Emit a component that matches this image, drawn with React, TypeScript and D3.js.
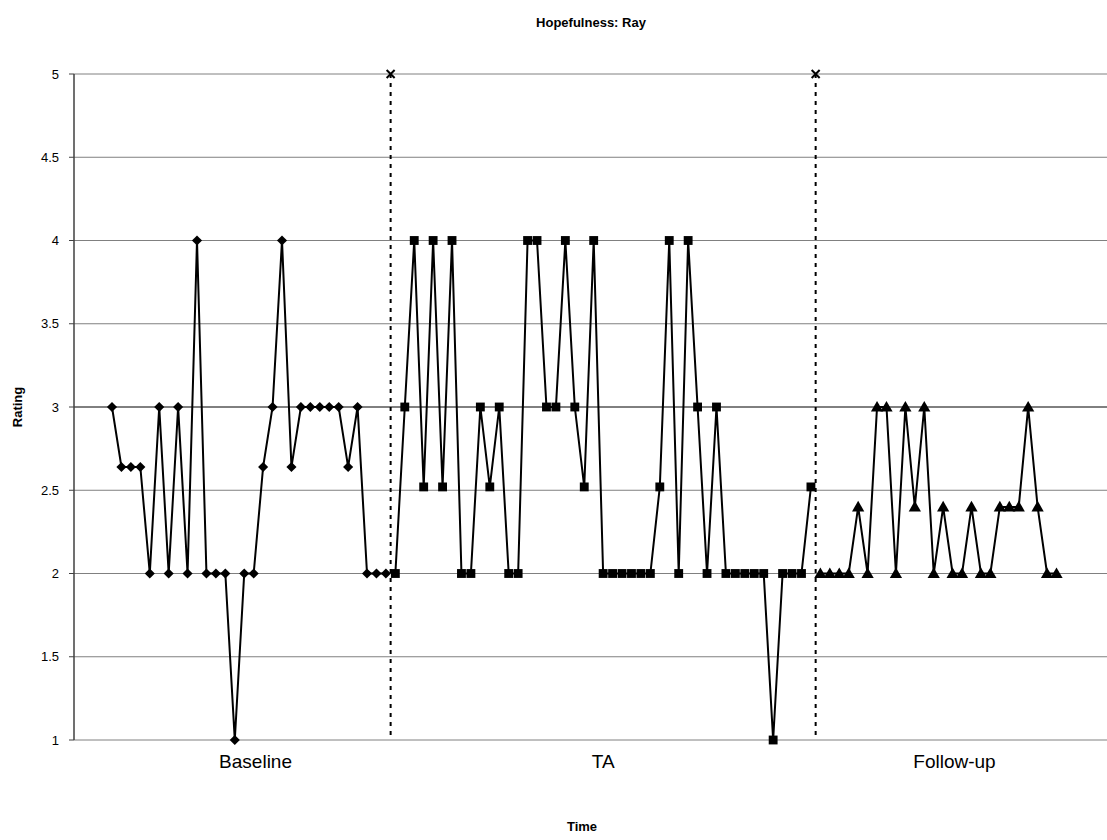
import React from "react";
import * as d3 from "d3";

const title = "Hopefulness: Ray";
const yTitle = "Rating";
const xTitle = "Time";

const baseline = [3, 2.64, 2.64, 2.64, 2, 3, 2, 3, 2, 4, 2, 2, 2, 1, 2, 2, 2.64, 3, 4, 2.64, 3, 3, 3, 3, 3, 2.64, 3, 2, 2, 2];
const ta = [2, 3, 4, 2.52, 4, 2.52, 4, 2, 2, 3, 2.52, 3, 2, 2, 4, 4, 3, 3, 4, 3, 2.52, 4, 2, 2, 2, 2, 2, 2, 2.52, 4, 2, 4, 3, 2, 3, 2, 2, 2, 2, 2, 1, 2, 2, 2, 2.52];
const followUp = [2, 2, 2, 2, 2.4, 2, 3, 3, 2, 3, 2.4, 3, 2, 2.4, 2, 2, 2.4, 2, 2, 2.4, 2.4, 2.4, 3, 2.4, 2, 2];

const phaseLabels = ["Baseline", "TA", "Follow-up"];
const phaseLabelPos = [15.2, 52, 89.2];
const phaseChanges = [29.5, 74.5];
const yTicks = [1, 1.5, 2, 2.5, 3, 3.5, 4, 4.5, 5];

const W = 1107;
const H = 840;
const left = 74;
const right = 1107;
const top = 74;
const bottom = 740;

export default function App() {
  const x = d3.scaleLinear().domain([0, 100]).range([112, 1056.5]);
  const y = d3.scaleLinear().domain([1, 5]).range([bottom, top]);

  const bPts = baseline.map((v, i) => [i, v] as [number, number]);
  const tPts = ta.map((v, i) => [i + baseline.length, v] as [number, number]);
  const fPts = followUp.map((v, i) => [i + baseline.length + ta.length, v] as [number, number]);

  const line = d3
    .line<[number, number]>()
    .x((d) => x(d[0]))
    .y((d) => y(d[1]));

  const diamond = d3.symbol().type(d3.symbolDiamond2).size(65)();
  const square = d3.symbol().type(d3.symbolSquare2).size(100)();
  const triangle = d3.symbol().type(d3.symbolTriangle).size(65)();

  const font = "Arial, 'Liberation Sans', sans-serif";

  return (
    <svg width={W} height={H} style={{ display: "block", position: "absolute", left: 0, top: 0 }} fontFamily={font}>
      <rect width={W} height={H} fill="#fff" />
      {yTicks.map((t) => (
        <line
          key={"g" + t}
          x1={left}
          x2={right}
          y1={y(t)}
          y2={y(t)}
          stroke={t === 3 ? "#000" : "#808080"}
          strokeWidth={1}
        />
      ))}
      <line x1={left} x2={left} y1={top} y2={bottom} stroke="#404040" strokeWidth={1.5} />
      {yTicks.map((t) => (
        <g key={"t" + t}>
          <line x1={left - 5} x2={left} y1={y(t)} y2={y(t)} stroke="#404040" strokeWidth={1} />
          <text x={59} y={y(t)} dy="0.35em" textAnchor="end" fontSize={13} fill="#000">
            {t}
          </text>
        </g>
      ))}
      {phaseChanges.map((p) => (
        <g key={"p" + p}>
          <line
            x1={x(p)}
            x2={x(p)}
            y1={y(5)}
            y2={y(1)}
            stroke="#000"
            strokeWidth={2}
            strokeDasharray="4,5"
          />
          <path
            d={`M${x(p) - 4},${y(5) - 4}L${x(p) + 4},${y(5) + 4}M${x(p) + 4},${y(5) - 4}L${x(p) - 4},${y(5) + 4}`}
            stroke="#000"
            strokeWidth={2}
          />
        </g>
      ))}
      {[bPts, tPts, fPts].map((pts, k) => (
        <path key={"l" + k} d={line(pts) || ""} fill="none" stroke="#000" strokeWidth={2} />
      ))}
      {bPts.map((d, i) => (
        <path key={"b" + i} d={diamond || ""} transform={`translate(${x(d[0])},${y(d[1])})`} fill="#000" />
      ))}
      {tPts.map((d, i) => (
        <path key={"s" + i} d={square || ""} transform={`translate(${x(d[0])},${y(d[1])})`} fill="#000" />
      ))}
      {fPts.map((d, i) => (
        <path key={"f" + i} d={triangle || ""} transform={`translate(${x(d[0])},${y(d[1]) + 1})`} fill="#000" />
      ))}
      {phaseLabels.map((l, i) => (
        <text key={l} x={x(phaseLabelPos[i])} y={768} textAnchor="middle" fontSize={19} fill="#000">
          {l}
        </text>
      ))}
      <text x={591} y={27} textAnchor="middle" fontSize={13} fontWeight="bold">
        {title}
      </text>
      <text x={582} y={831} textAnchor="middle" fontSize={13} fontWeight="bold">
        {xTitle}
      </text>
      <text
        transform={`translate(22,${(top + bottom) / 2}) rotate(-90)`}
        textAnchor="middle"
        fontSize={13}
        fontWeight="bold"
      >
        {yTitle}
      </text>
    </svg>
  );
}
